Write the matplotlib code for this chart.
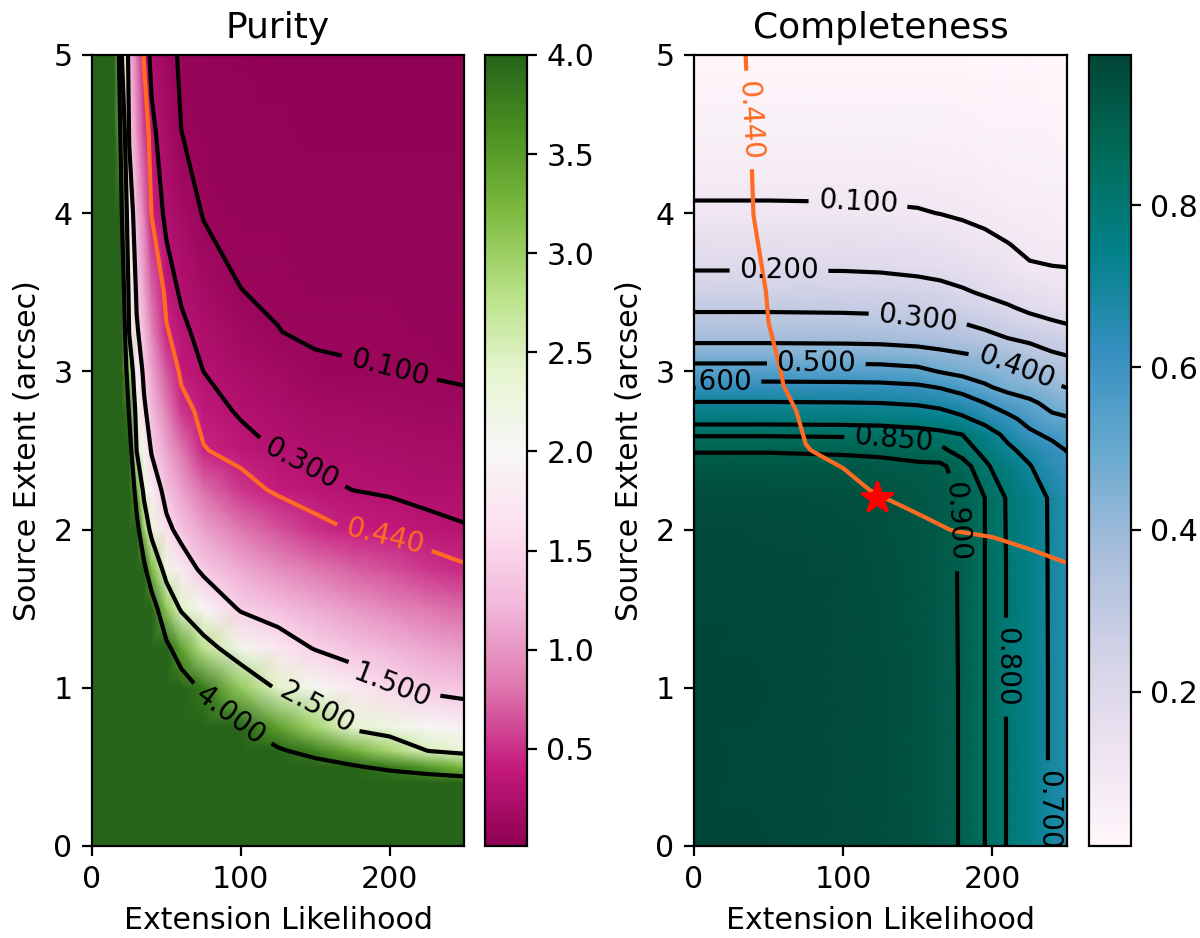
import numpy as np
import matplotlib.pyplot as plt

plt.rcParams['font.size'] = 10.8

# ---- purity table (one row per extension likelihood column, values along source extent) ----
ext_like_p = [0, 15, 20, 25, 30, 35, 40, 50, 60, 75, 100, 125, 150, 175, 200, 225, 250]
src_ext_p = [0, 0.25, 0.4, 0.5, 0.6, 0.75, 1.0, 1.25, 1.5, 1.75, 2.0, 2.25, 2.5, 2.75,
             3.0, 3.25, 3.5, 4.0, 4.5, 5.0]
purity_cols = [
    [8, 8, 8, 8, 8, 8, 8, 8, 8, 8, 8, 8, 8, 8, 8, 8, 8, 8, 8, 8],
    [8, 8, 8, 8, 8, 8, 8, 8, 8, 8, 8, 8, 8, 8, 8, 8, 8, 8, 7.0, 6.25],
    [8, 8, 8, 8, 8, 8, 8, 8, 7.75, 7.375, 7.0, 6.625, 6.25, 5.875, 5.5, 5.125, 4.75, 4.0, 3.25, 2.5],
    [8, 8, 8, 8, 8, 8, 8, 8, 7.6, 6.85, 6.1, 5.35, 4.6, 3.85, 3.1, 2.456, 2.235, 1.79, 1.45, 1.31],
    [8, 8, 8, 8, 8, 8, 8, 7.36, 6.37, 5.38, 4.39, 3.408, 2.476, 2.171, 1.866, 1.561, 1.42, 1.22, 1.02, 0.83],
    [8, 8, 8, 8, 8, 8, 7.87, 6.66, 5.45, 4.24, 3.03, 2.297, 1.935, 1.572, 1.393, 1.26, 1.127, 0.861, 0.594, 0.41],
    [8, 8, 8, 8, 8, 8, 7.39, 6.0, 4.61, 3.22, 2.286, 1.839, 1.457, 1.279, 1.102, 0.924, 0.746, 0.428, 0.341, 0.255],
    [8, 8, 8, 7.7, 7.22, 6.53, 5.38, 4.23, 3.08, 2.208, 1.618, 1.327, 1.11, 0.893, 0.676, 0.459, 0.377, 0.26, 0.205, 0.15],
    [8, 7.75, 7.1, 6.67, 6.24, 5.59, 4.52, 3.44, 2.417, 1.767, 1.348, 1.089, 0.831, 0.53, 0.39, 0.337, 0.279, 0.191, 0.101, 0.08],
    [8, 6.99, 6.36, 5.93, 5.51, 4.876, 3.818, 2.762, 1.964, 1.393, 1.087, 0.78, 0.452, 0.373, 0.299, 0.246, 0.193, 0.09, 0.078, 0.065],
    [7.2, 6.15, 5.53, 5.11, 4.7, 4.075, 3.036, 2.129, 1.445, 1.14, 0.835, 0.53, 0.367, 0.279, 0.219, 0.16, 0.101, 0.083, 0.067, 0.05],
    [6.66, 5.59, 4.95, 4.525, 4.098, 3.457, 2.428, 1.738, 1.292, 0.974, 0.657, 0.403, 0.292, 0.23, 0.168, 0.1015, 0.092, 0.075, 0.057, 0.04],
    [7.0, 5.66, 4.845, 4.3, 3.755, 2.936, 2.075, 1.474, 1.151, 0.828, 0.505, 0.343, 0.259, 0.195, 0.115, 0.088, 0.08, 0.068, 0.052, 0.035],
    [7.5, 5.99, 4.85, 4.09, 3.333, 2.4, 1.775, 1.329, 1.024, 0.718, 0.429, 0.2995, 0.239, 0.179, 0.103, 0.094, 0.085, 0.067, 0.05, 0.032],
    [8, 5.96, 4.66, 3.8, 2.94, 2.223, 1.525, 1.22, 0.929, 0.638, 0.394, 0.28, 0.222, 0.163, 0.1007, 0.0919, 0.083, 0.065, 0.048, 0.03],
    [8, 6.1, 4.56, 3.54, 2.51, 2.03, 1.405, 1.115, 0.825, 0.536, 0.346, 0.255, 0.205, 0.148, 0.0915, 0.086, 0.08, 0.064, 0.047, 0.03],
    [8, 6.5, 4.52, 3.217, 2.357, 1.881, 1.347, 1.052, 0.758, 0.464, 0.311, 0.248, 0.192, 0.136, 0.0798, 0.075, 0.07, 0.06, 0.045, 0.03],
]
purity_levels = [0.1, 0.3, 1.5, 2.5, 4.0]
cut_level = [0.44]

# ---- completeness table (one row per source extent) ----
ext_like_c = [0, 50, 100, 125, 150, 165, 180, 195, 210, 225, 240, 250]
src_ext_c = [0, 1.0, 1.8, 2.2, 2.4, 2.5, 2.6, 2.7, 2.8, 2.9, 3.0, 3.1, 3.2, 3.3, 3.4,
             3.5, 3.65, 3.8, 4.0, 4.2, 4.5, 5.0]
completeness_rows = [
    [0.98, 0.975, 0.965, 0.955, 0.94, 0.92, 0.895, 0.85, 0.797, 0.745, 0.69, 0.66],
    [0.98, 0.975, 0.965, 0.955, 0.94, 0.92, 0.895, 0.85, 0.797, 0.745, 0.69, 0.66],
    [0.975, 0.972, 0.963, 0.953, 0.938, 0.918, 0.894, 0.85, 0.797, 0.744, 0.689, 0.658],
    [0.96, 0.958, 0.952, 0.945, 0.93, 0.915, 0.895, 0.85, 0.795, 0.742, 0.688, 0.655],
    [0.93, 0.93, 0.925, 0.92, 0.91, 0.91, 0.875, 0.81, 0.765, 0.705, 0.645, 0.615],
    [0.895, 0.895, 0.89, 0.885, 0.875, 0.865, 0.825, 0.785, 0.72, 0.67, 0.625, 0.598],
    [0.845, 0.845, 0.843, 0.84, 0.83, 0.82, 0.80, 0.745, 0.68, 0.615, 0.585, 0.56],
    [0.775, 0.775, 0.773, 0.77, 0.76, 0.745, 0.715, 0.67, 0.62, 0.575, 0.52, 0.51],
    [0.705, 0.705, 0.703, 0.70, 0.69, 0.675, 0.645, 0.60, 0.56, 0.52, 0.47, 0.445],
    [0.63, 0.63, 0.628, 0.625, 0.615, 0.595, 0.565, 0.515, 0.47, 0.445, 0.415, 0.398],
    [0.545, 0.545, 0.543, 0.54, 0.525, 0.495, 0.47, 0.45, 0.425, 0.40, 0.36, 0.335],
    [0.455, 0.455, 0.453, 0.45, 0.44, 0.425, 0.41, 0.395, 0.365, 0.335, 0.31, 0.30],
    [0.385, 0.385, 0.383, 0.38, 0.37, 0.36, 0.345, 0.325, 0.305, 0.29, 0.27, 0.26],
    [0.33, 0.33, 0.328, 0.325, 0.315, 0.31, 0.302, 0.285, 0.26, 0.23, 0.21, 0.20],
    [0.29, 0.29, 0.288, 0.285, 0.275, 0.265, 0.25, 0.23, 0.21, 0.185, 0.17, 0.16],
    [0.255, 0.255, 0.253, 0.25, 0.24, 0.228, 0.21, 0.19, 0.17, 0.155, 0.14, 0.135],
    [0.195, 0.195, 0.194, 0.19, 0.18, 0.172, 0.16, 0.145, 0.125, 0.105, 0.102, 0.101],
    [0.165, 0.165, 0.164, 0.16, 0.15, 0.14, 0.128, 0.115, 0.102, 0.09, 0.085, 0.083],
    [0.11, 0.11, 0.109, 0.107, 0.104, 0.099, 0.092, 0.085, 0.078, 0.072, 0.068, 0.066],
    [0.085, 0.085, 0.084, 0.083, 0.08, 0.077, 0.072, 0.066, 0.06, 0.056, 0.053, 0.052],
    [0.055, 0.055, 0.054, 0.053, 0.051, 0.049, 0.046, 0.043, 0.04, 0.037, 0.035, 0.034],
    [0.02, 0.02, 0.02, 0.02, 0.019, 0.018, 0.017, 0.016, 0.015, 0.014, 0.013, 0.013],
]
completeness_levels = [0.1, 0.2, 0.3, 0.4, 0.5, 0.6, 0.7, 0.8, 0.85, 0.9]

# chosen cut
best_el = 123
best_ext = 2.2

orange = '#ff6b22'

purity = np.array(purity_cols).T
completeness = np.array(completeness_rows)

fig = plt.figure(figsize=(6.0, 4.69))
ax1 = fig.add_axes([0.0767, 0.0981, 0.31, 0.8433])
cax1 = fig.add_axes([0.4042, 0.0981, 0.035, 0.8433])
ax2 = fig.add_axes([0.5783, 0.0981, 0.3108, 0.8433])
cax2 = fig.add_axes([0.9075, 0.0981, 0.035, 0.8433])

# purity
pm1 = ax1.pcolormesh(ext_like_p, src_ext_p, purity, cmap='PiYG', vmin=0.01, vmax=4.0,
                     shading='gouraud')
cs1 = ax1.contour(ext_like_p, src_ext_p, purity, levels=purity_levels, colors='k')
ax1.clabel(cs1, fmt='%1.3f', fontsize=10,
           manual=[(200, 3.02), (140, 2.40), (201, 1.0), (150, 0.86), (93, 0.82)])
cs1b = ax1.contour(ext_like_p, src_ext_p, purity, levels=cut_level, colors=orange)
ax1.clabel(cs1b, fmt='%1.3f', fontsize=10, manual=[(196, 1.92)])
fig.colorbar(pm1, cax=cax1)
ax1.set_title('Purity')
ax1.set_xlabel('Extension Likelihood')
ax1.set_ylabel('Source Extent (arcsec)')

# completeness
pm2 = ax2.pcolormesh(ext_like_c, src_ext_c, completeness, cmap='PuBuGn', vmin=0.01,
                     vmax=0.985, shading='gouraud')
cs2 = ax2.contour(ext_like_c, src_ext_c, completeness, levels=completeness_levels,
                  colors='k')
ax2.clabel(cs2, fmt='%1.3f', fontsize=10,
           manual=[(110, 4.07), (57, 3.65), (150, 3.33), (216, 3.03), (82, 3.04),
                   (12, 2.94), (236, 0.23), (209, 1.13), (134, 2.58), (180, 2.05)])
cs2b = ax2.contour(ext_like_p, src_ext_p, purity, levels=cut_level, colors=orange)
ax2.clabel(cs2b, fmt='%1.3f', fontsize=10, manual=[(38, 4.59)])
ax2.plot(best_el, best_ext, marker='*', color='red', markersize=12, linestyle='none')
fig.colorbar(pm2, cax=cax2)
ax2.set_title('Completeness')
ax2.set_xlabel('Extension Likelihood')
ax2.set_ylabel('Source Extent (arcsec)')

for ax in (ax1, ax2):
    ax.set_xlim(0, 250)
    ax.set_ylim(0, 5)
    ax.set_xticks([0, 100, 200])

fig.savefig('out.png', dpi=200)
